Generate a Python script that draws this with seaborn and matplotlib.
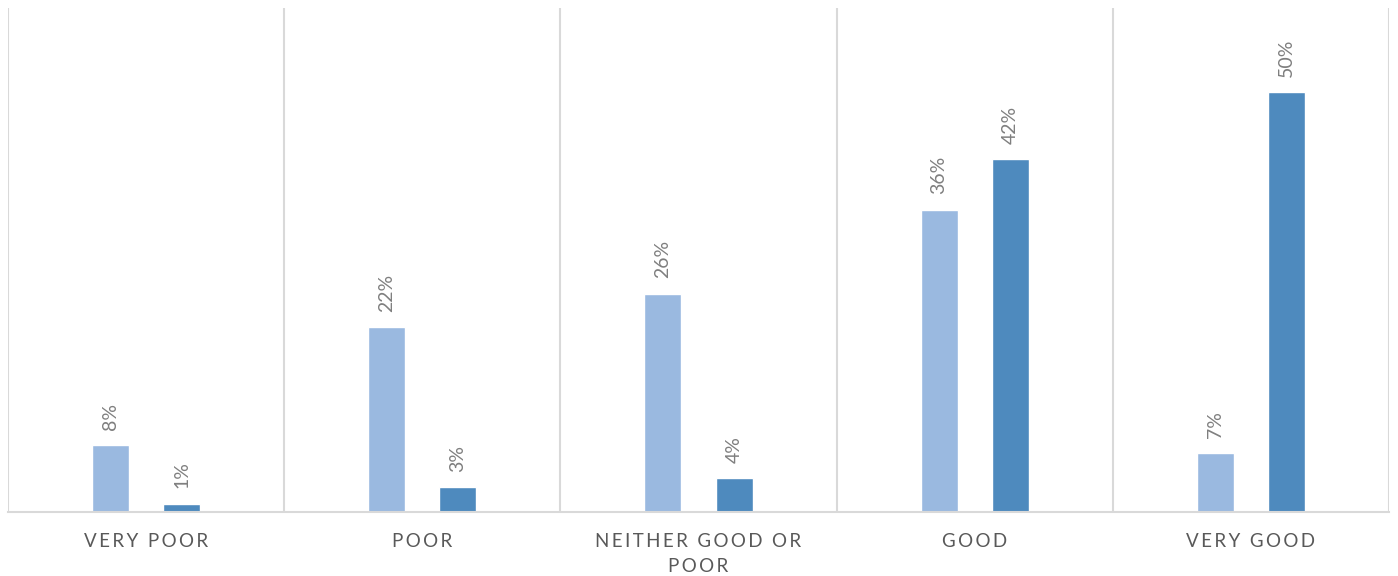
"""
Grouped bar chart of ratings for two series, percent labels on top of each bar.
"""
import matplotlib
matplotlib.use("Agg")
import matplotlib.pyplot as plt
import pandas as pd
import seaborn as sns

categories = ["VERY POOR", "POOR", "NEITHER GOOD OR\nPOOR", "GOOD", "VERY GOOD"]
series_names = ["Series 1", "Series 2"]
series_1 = [8, 22, 26, 36, 7]
series_2 = [1, 3, 4, 42, 50]

sns.set_theme(style="white")
plt.rcParams["font.family"] = ["Lato", "DejaVu Sans"]

df = pd.DataFrame({
    "category": categories * 2,
    "series": [series_names[0]] * len(categories) + [series_names[1]] * len(categories),
    "value": series_1 + series_2,
})


def spaced(label):
    # imitate the wide letter spacing of the original labels
    return "\n".join("\u2009".join(line) for line in label.split("\n"))


fig = plt.figure(figsize=(13.98, 5.76), dpi=100)
ax = fig.add_axes([8 / 1398, 64 / 576, 1381 / 1398, 504 / 576])

sns.barplot(data=df, x="category", y="value", hue="series", order=categories,
            hue_order=series_names, palette=["#9AB9E0", "#4E8ABE"],
            width=0.516, gap=0.48, legend=False, ax=ax, saturation=1)

for cont in ax.containers:
    ax.bar_label(cont, labels=[f"{v:.0f}%" for v in cont.datavalues], rotation=90,
                 padding=11, color="#7F7F7F", fontsize=14)

ax.set_xlim(-0.5, len(categories) - 0.5)
ax.set_ylim(0, 60)
ax.set_yticks([])
ax.set_xlabel("")
ax.set_ylabel("")
ax.set_xticks(range(len(categories)))
ax.set_xticklabels([spaced(c) for c in categories], color="#595959", fontsize=13.5,
                   linespacing=1.55)
ax.tick_params(axis="x", length=0, pad=15)

# vertical separators between categories
ax.set_xticks([i - 0.5 for i in range(len(categories) + 1)], minor=True)
ax.tick_params(axis="x", which="minor", length=0)
ax.grid(which="minor", axis="x", color="#D9D9D9", linewidth=1.5)
ax.set_axisbelow(True)

for side in ["top", "left", "right"]:
    ax.spines[side].set_visible(False)
ax.spines["bottom"].set_color("#D9D9D9")
ax.spines["bottom"].set_linewidth(1.5)

plt.savefig("out.png", dpi=100)
